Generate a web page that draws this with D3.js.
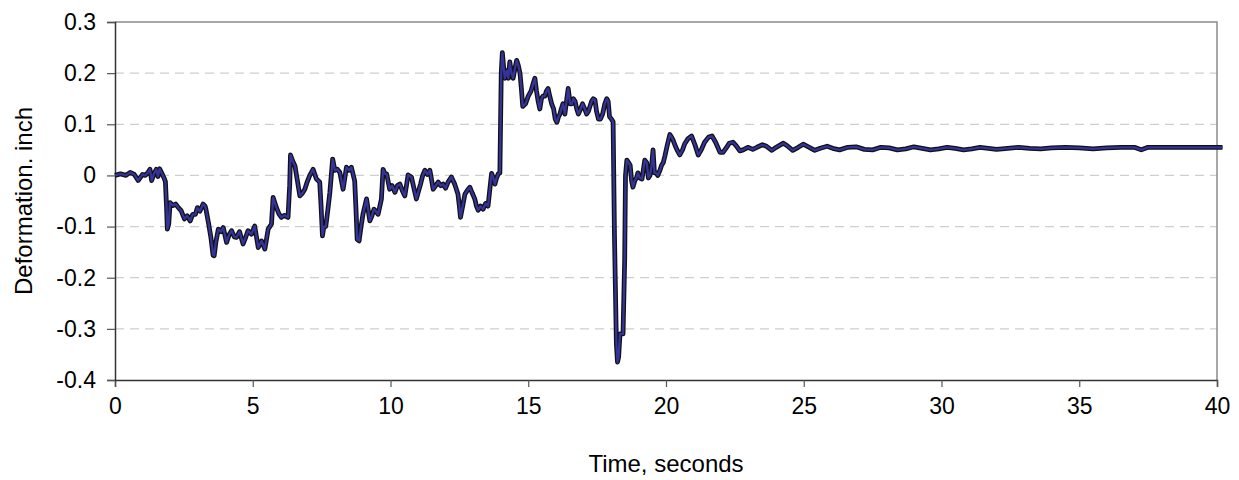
<!DOCTYPE html>
<html><head><meta charset="utf-8">
<script src="https://cdn.jsdelivr.net/npm/d3@7"></script>
<style>
html,body{margin:0;padding:0;background:#fff;}
text{font-family:"Liberation Sans",Arial,Helvetica,sans-serif;fill:#000;}
</style></head>
<body>
<svg id="chart" width="1239" height="480"></svg>
<script>
const timeSec = [0,0.2,0.4,0.55,0.7,0.84,1.0,1.1,1.2,1.27,1.33,1.42,1.5,1.56,1.62,1.7,1.78,1.83,1.87,1.9,1.95,2.0,2.1,2.2,2.3,2.4,2.52,2.62,2.73,2.82,2.92,2.99,3.08,3.2,3.27,3.3,3.4,3.48,3.56,3.6,3.66,3.75,3.85,3.93,4.05,4.15,4.23,4.33,4.41,4.52,4.65,4.75,4.83,4.95,5.07,5.2,5.32,5.44,5.56,5.68,5.74,5.86,5.95,6.04,6.15,6.28,6.34,6.37,6.45,6.53,6.62,6.71,6.8,6.89,6.98,7.07,7.19,7.31,7.43,7.48,7.53,7.58,7.65,7.72,7.8,7.9,7.98,8.07,8.16,8.28,8.4,8.5,8.58,8.7,8.75,8.79,8.86,8.93,9.0,9.07,9.13,9.25,9.32,9.4,9.47,9.55,9.67,9.73,9.8,9.86,9.97,10.06,10.16,10.25,10.34,10.43,10.52,10.64,10.76,10.85,10.94,11.02,11.09,11.17,11.25,11.34,11.43,11.55,11.64,11.73,11.82,11.91,12.0,12.09,12.21,12.33,12.45,12.5,12.54,12.62,12.7,12.78,12.88,12.97,13.06,13.12,13.18,13.27,13.36,13.45,13.54,13.6,13.67,13.73,13.79,13.85,13.91,13.97,14.02,14.06,14.1,14.15,14.22,14.28,14.33,14.39,14.45,14.52,14.58,14.64,14.7,14.75,14.8,14.9,15.0,15.1,15.18,15.24,15.3,15.36,15.42,15.48,15.53,15.6,15.66,15.72,15.78,15.85,15.92,15.98,16.04,16.1,16.15,16.2,16.26,16.33,16.4,16.45,16.52,16.58,16.64,16.7,16.76,16.82,16.9,16.97,17.05,17.12,17.18,17.24,17.3,17.36,17.42,17.48,17.55,17.62,17.7,17.78,17.85,17.9,17.95,18.02,18.08,18.13,18.2,18.24,18.28,18.33,18.4,18.44,18.5,18.53,18.58,18.64,18.7,18.75,18.8,18.87,18.93,18.98,19.05,19.13,19.23,19.3,19.36,19.42,19.48,19.53,19.58,19.64,19.7,19.78,19.84,19.9,19.96,20.05,20.14,20.2,20.25,20.32,20.4,20.5,20.6,20.68,20.8,20.93,21.05,21.17,21.28,21.4,21.55,21.67,21.8,21.96,22.07,22.2,22.3,22.43,22.55,22.68,22.8,22.97,23.15,23.3,23.5,23.65,23.84,24.0,24.26,24.4,24.6,24.8,24.98,25.2,25.4,25.6,25.85,26.05,26.3,26.6,26.9,27.2,27.5,27.8,28.1,28.4,28.7,29.0,29.3,29.6,29.9,30.2,30.5,30.8,31.1,31.4,31.7,32.0,32.4,32.8,33.2,33.6,34.0,34.5,35.0,35.5,36.0,36.5,37.0,37.25,37.5,38.0,39.0,40.0,40.2];
const deformation = [0,0.003,0.0,0.006,0.002,-0.01,0.002,0.0,0.006,0.012,-0.01,0.004,0.012,-0.002,0.013,0.004,-0.005,-0.012,-0.06,-0.105,-0.095,-0.053,-0.059,-0.056,-0.063,-0.069,-0.085,-0.079,-0.089,-0.076,-0.076,-0.063,-0.07,-0.056,-0.06,-0.066,-0.095,-0.121,-0.156,-0.157,-0.131,-0.105,-0.11,-0.102,-0.131,-0.115,-0.108,-0.12,-0.121,-0.11,-0.134,-0.12,-0.108,-0.115,-0.099,-0.141,-0.128,-0.144,-0.105,-0.095,-0.043,-0.063,-0.075,-0.082,-0.078,-0.082,-0.02,0.04,0.028,0.019,-0.01,-0.04,-0.035,-0.027,-0.012,0.0,0.012,-0.007,-0.013,-0.06,-0.118,-0.1,-0.1,-0.07,-0.033,0.032,0.01,0.012,0.006,-0.027,0.016,0.01,0.016,-0.011,-0.07,-0.125,-0.128,-0.1,-0.076,-0.06,-0.046,-0.089,-0.08,-0.066,-0.07,-0.076,-0.046,0.012,0.003,0.003,-0.027,-0.02,-0.033,-0.02,-0.017,-0.03,-0.04,0.001,-0.003,-0.025,-0.046,-0.03,-0.017,0.0,0.01,0.002,0.01,-0.027,-0.02,-0.013,-0.02,-0.017,-0.025,-0.013,-0.003,-0.017,-0.037,-0.06,-0.082,-0.06,-0.037,-0.03,-0.023,-0.035,-0.046,-0.06,-0.068,-0.06,-0.066,-0.055,-0.06,-0.03,0.004,-0.005,-0.017,-0.005,0.003,0.005,0.2,0.24,0.215,0.19,0.205,0.19,0.222,0.2,0.19,0.21,0.225,0.215,0.2,0.17,0.135,0.14,0.155,0.165,0.18,0.19,0.165,0.145,0.13,0.15,0.155,0.155,0.165,0.17,0.155,0.14,0.13,0.11,0.104,0.115,0.12,0.13,0.14,0.12,0.15,0.17,0.14,0.14,0.15,0.145,0.13,0.12,0.13,0.14,0.13,0.12,0.125,0.135,0.145,0.15,0.148,0.125,0.11,0.11,0.12,0.14,0.15,0.145,0.115,0.11,0.105,-0.12,-0.33,-0.365,-0.355,-0.31,-0.31,-0.31,-0.165,0.0,0.03,0.025,0.02,-0.01,-0.023,-0.01,-0.005,0.005,-0.005,-0.007,0.03,0.025,-0.005,0.0,0.02,0.05,0.005,0.005,0.0,0.01,0.02,0.025,0.038,0.06,0.08,0.075,0.07,0.06,0.05,0.04,0.05,0.062,0.072,0.077,0.06,0.04,0.05,0.065,0.075,0.077,0.065,0.045,0.045,0.055,0.063,0.065,0.058,0.048,0.05,0.055,0.051,0.055,0.06,0.057,0.049,0.055,0.063,0.058,0.049,0.055,0.061,0.055,0.049,0.053,0.057,0.053,0.05,0.055,0.056,0.051,0.05,0.055,0.054,0.05,0.052,0.056,0.053,0.05,0.052,0.055,0.053,0.05,0.052,0.055,0.053,0.051,0.053,0.055,0.053,0.052,0.054,0.055,0.054,0.052,0.054,0.055,0.055,0.05,0.055,0.055,0.055,0.055,0.055];
const xTicks = [0,5,10,15,20,25,30,35,40];
const yTicks = [0.3,0.2,0.1,0,-0.1,-0.2,-0.3,-0.4];
const yTickLabels = ["0.3","0.2","0.1","0","-0.1","-0.2","-0.3","-0.4"];
const xTitle = "Time, seconds";
const yTitle = "Deformation. inch";

const W = 1239, H = 480;
const m = {left:115, right:22, top:22, bottom:100};
const iw = W - m.left - m.right, ih = H - m.top - m.bottom;
const svg = d3.select("#chart");
const g = svg.append("g").attr("transform",`translate(${m.left},${m.top})`);
const x = d3.scaleLinear().domain([0,40]).range([0,iw]);
const y = d3.scaleLinear().domain([-0.4,0.3]).range([ih,0]);

// grid
g.append("g").selectAll("line").data(yTicks.filter(v=>v!==0.3 && v!==-0.4)).join("line")
  .attr("x1",0).attr("x2",iw).attr("y1",d=>y(d)).attr("y2",d=>y(d))
  .attr("stroke","#cfcfcf").attr("stroke-width",1.2).attr("stroke-dasharray","9,6");

// frame top/right
g.append("path").attr("d",`M0,0H${iw}V${ih}`).attr("fill","none").attr("stroke","#8c8c8c").attr("stroke-width",1.5);

// axes
const xAxis = g.append("g").attr("transform",`translate(0,${ih})`)
  .call(d3.axisBottom(x).tickValues(xTicks).tickSize(7).tickPadding(11).tickFormat(d3.format("d")));
const yAxis = g.append("g")
  .call(d3.axisLeft(y).tickValues(yTicks).tickSize(8).tickPadding(11).tickFormat((d,i)=>yTickLabels[i]));
[xAxis,yAxis].forEach(a=>{
  a.select(".domain").attr("stroke","#333").attr("stroke-width",1.5);
  a.selectAll(".tick line").attr("stroke","#555").attr("stroke-width",1.2);
  a.selectAll("text").attr("font-size",23).attr("fill","#000").style("font-family","'Liberation Sans',Arial,sans-serif");
});

// line
const pts = timeSec.map((t,i)=>[t,deformation[i]]);
const line = d3.line().x(d=>x(d[0])).y(d=>y(d[1]));
g.append("path").datum(pts).attr("d",line).attr("fill","none")
  .attr("stroke","#111").attr("stroke-width",4.8).attr("stroke-linejoin","round");
g.append("path").datum(pts).attr("d",line).attr("fill","none")
  .attr("stroke","#333399").attr("stroke-width",2.3).attr("stroke-linejoin","round");

// titles
svg.append("text").attr("x",m.left+iw/2).attr("y",472).attr("text-anchor","middle")
  .attr("font-size",24).text(xTitle);
svg.append("text").attr("transform",`translate(32,${m.top+ih/2}) rotate(-90)`).attr("text-anchor","middle")
  .attr("font-size",24).text(yTitle);
</script>
</body></html>
